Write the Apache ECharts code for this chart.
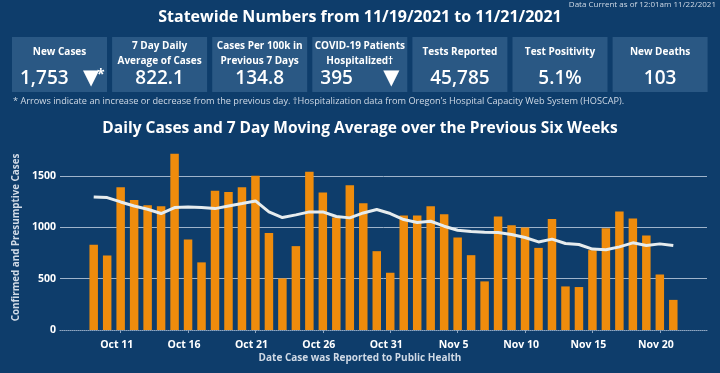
<!DOCTYPE html>
<html>
<head>
<meta charset="utf-8">
<script src="https://cdn.jsdelivr.net/npm/echarts@6/dist/echarts.min.js"></script>
<style>
html,body{margin:0;padding:0;background:#0e3d6b;}
#chart{width:720px;height:373px;}
</style>
</head>
<body>
<div id="chart"></div>
<script>
// ---- data ----
const dates = ['Oct 7','Oct 8','Oct 9','Oct 10','Oct 11','Oct 12','Oct 13','Oct 14','Oct 15','Oct 16','Oct 17','Oct 18','Oct 19','Oct 20','Oct 21','Oct 22','Oct 23','Oct 24','Oct 25','Oct 26','Oct 27','Oct 28','Oct 29','Oct 30','Oct 31','Nov 1','Nov 2','Nov 3','Nov 4','Nov 5','Nov 6','Nov 7','Nov 8','Nov 9','Nov 10','Nov 11','Nov 12','Nov 13','Nov 14','Nov 15','Nov 16','Nov 17','Nov 18','Nov 19','Nov 20','Nov 21','Nov 22','Nov 23'];
const dailyCases = [null,null,830,725,1390,1265,1215,1205,1715,880,658,1355,1343,1388,1500,945,502,816,1540,1338,1094,1408,1233,767,557,1113,1113,1204,1126,900,728,473,1104,1020,997,799,1081,424,418,777,990,1152,1085,920,540,293,null,null];
const movingAvg = [null,null,1294,1288,1246,1207,1175,1133,1191,1197,1191,1181,1207,1230,1256,1149,1094,1120,1149,1149,1104,1091,1139,1172,1133,1075,1046,1058,1010,971,958,952,949,929,900,857,884,842,832,787,780,809,848,822,838,822,null,null];
const xTickLabels = ['Oct 11','Oct 16','Oct 21','Oct 26','Oct 31','Nov 5','Nov 10','Nov 15','Nov 20'];
const yTicks = [0,500,1000,1500];
const kpiLabels = ['New Cases','7 Day Daily\nAverage of Cases','Cases Per 100k in\nPrevious 7 Days','COVID-19 Patients\nHospitalized\u2020','Tests Reported','Test Positivity','New Deaths'];
const kpiValues = ['1,753','822.1','134.8','395','45,785','5.1%','103'];
const kpiArrows = ['\u25BC','','','\u25BC','','',''];
const kpiArrowNotes = ['*','','','','','',''];
const headerTitle = 'Statewide Numbers from 11/19/2021 to 11/21/2021';
const dataCurrent = 'Data Current as of 12:01am 11/22/2021';
const footnote = '* Arrows indicate an increase or decrease from the previous day. \u2020Hospitalization data from Oregon\u2019s Hospital Capacity Web System (HOSCAP).';
const chartTitle = 'Daily Cases and 7 Day Moving Average over the Previous Six Weeks';
const yAxisTitle = 'Confirmed and Presumptive Cases';
const xAxisTitle = 'Date Case was Reported to Public Health';

// ---- styles ----
const FONT = 'Open Sans';
const BG = '#0e3d6b';
const BOX = '#2a5884';
const BAR = '#ef8c0c';
const TXT = '#ffffff';
const SUB = '#d0dae6';

const graphics = [];
graphics.push({type:'text', right:4, top:1, style:{text:dataCurrent, font:'8px "'+FONT+'"', fill:SUB}});
graphics.push({type:'text', left:'center', top:9, style:{text:headerTitle, font:'bold 16px "'+FONT+'"', fill:TXT}});
for (let i = 0; i < kpiLabels.length; i++) {
  const x0 = 12 + i * 100.1;
  const cx = x0 + 47.5;
  graphics.push({type:'rect', shape:{x:x0, y:37, width:95, height:55}, style:{fill:BOX}});
  graphics.push({type:'text', x:cx, y:kpiLabels[i].indexOf('\n')>=0 ? 53.5 : 52,
    style:{text:kpiLabels[i], font:'bold 10px "'+FONT+'"', fill:TXT, align:'center', verticalAlign:'middle', lineHeight:15}});
  if (kpiArrows[i]) {
    graphics.push({type:'text', x:x0 + 8, y:79, style:{text:kpiValues[i], font:'600 19px "'+FONT+'"', fill:TXT, align:'left', verticalAlign:'middle'}});
    graphics.push({type:'text', x:x0 + 71, y:79, style:{text:kpiArrows[i], font:'bold 21px "DejaVu Sans"', fill:TXT, align:'left', verticalAlign:'middle'}});
    if (kpiArrowNotes[i]) {
      graphics.push({type:'text', x:x0 + 85, y:75, style:{text:kpiArrowNotes[i], font:'bold 14px "'+FONT+'"', fill:TXT, align:'left', verticalAlign:'middle'}});
    }
  } else {
    graphics.push({type:'text', x:cx, y:79, style:{text:kpiValues[i], font:'600 19px "'+FONT+'"', fill:TXT, align:'center', verticalAlign:'middle'}});
  }
}
graphics.push({type:'text', left:13, top:97, style:{text:footnote, font:'9.2px "'+FONT+'"', fill:SUB}});
graphics.push({type:'text', left:'center', top:121, style:{text:chartTitle, font:'bold 15.5px "'+FONT+'"', fill:TXT}});
graphics.push({type:'text', left:'center', top:353, style:{text:xAxisTitle, font:'bold 10px "'+FONT+'"', fill:SUB}});

const chart = echarts.init(document.getElementById('chart'));
chart.setOption({
  backgroundColor: BG,
  animation: false,
  graphic: graphics,
  grid: {left:60, right:13, top:145, bottom:43},
  xAxis: {
    type:'category', data:dates, boundaryGap:true,
    axisLine:{show:true, lineStyle:{color:'#8fa6c0', type:'dotted', width:1}},
    axisTick:{show:true, alignWithLabel:true, length:3, lineStyle:{color:'#8fa6c0'},
      interval:(idx)=> xTickLabels.indexOf(dates[idx]) >= 0},
    axisLabel:{color:TXT, fontFamily:FONT, fontWeight:'bold', fontSize:10.5, margin:10, padding:[0,8,0,0],
      interval:(idx)=> xTickLabels.indexOf(dates[idx]) >= 0}
  },
  yAxis: {
    type:'value', min:0, max:1800, interval:500,
    name:yAxisTitle, nameLocation:'middle', nameGap:30,
    nameTextStyle:{color:SUB, fontFamily:FONT, fontWeight:'bold', fontSize:9.8},
    axisLine:{show:false}, axisTick:{show:false},
    axisLabel:{color:TXT, fontFamily:FONT, fontWeight:'bold', fontSize:10.5, margin:4, showMaxLabel:false,
      formatter:(v)=> yTicks.indexOf(v) >= 0 ? String(v) : ''},
    splitLine:{show:true, showMinLine:false, showMaxLine:false, lineStyle:{color:'#9fb4cb', width:1}}
  },
  series: [
    {type:'bar', data:dailyCases, barWidth:'63%', itemStyle:{color:BAR}, z:2},
    {type:'line', data:movingAvg, symbol:'none', smooth:false,
      lineStyle:{color:'#e6ecee', width:3}, z:3}
  ]
});
</script>
</body>
</html>
